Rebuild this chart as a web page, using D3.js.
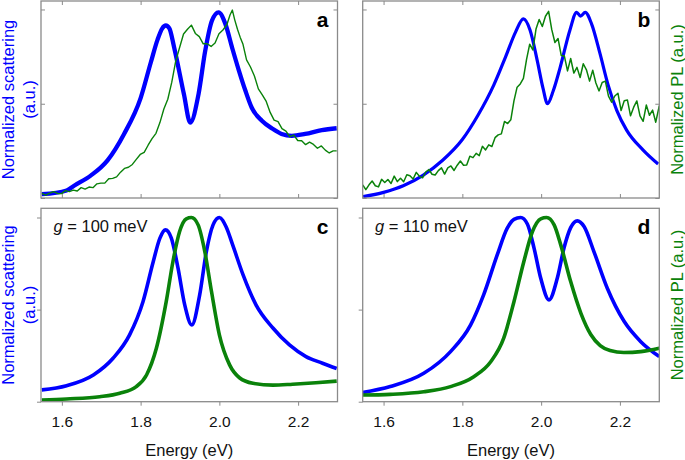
<!DOCTYPE html>
<meta charset='utf-8'>
<style>
  body { margin: 0; background: #fff; }
  svg { font-family: 'Liberation Sans', Arial, sans-serif; }
</style>
<div id='chart'></div>
<script src='https://d3js.org/d3.v7.min.js'></script>
<script>

// ---- data: [energy (eV), normalized value] ----
var scatA = [[1.549,0.02],[1.612,0.04],[1.631,0.065],[1.674,0.12],[1.716,0.2],[1.758,0.34],
  [1.80,0.53],[1.826,0.72],[1.843,0.84],[1.855,0.9],[1.864,0.915],[1.873,0.9],[1.885,0.8],
  [1.91,0.55],[1.926,0.40],[1.947,0.55],[1.964,0.78],[1.981,0.94],[1.998,0.985],[2.015,0.925],
  [2.032,0.80],[2.049,0.68],[2.066,0.57],[2.082,0.48],[2.108,0.41],[2.133,0.37],[2.158,0.34],
  [2.184,0.33],[2.218,0.34],[2.26,0.36],[2.298,0.37]];

var plA = [[1.549,0.025],[1.559,0.015],[1.569,0.026],[1.579,0.034],[1.589,0.024],[1.599,0.023],
  [1.609,0.039],[1.619,0.034],[1.629,0.042],[1.639,0.037],[1.649,0.055],[1.659,0.047],[1.669,0.058],
  [1.679,0.055],[1.689,0.075],[1.699,0.079],[1.709,0.079],[1.719,0.102],[1.729,0.104],[1.739,0.112],
  [1.749,0.137],[1.759,0.157],[1.769,0.163],[1.779,0.178],[1.789,0.205],[1.799,0.231],[1.809,0.242],
  [1.819,0.28],[1.829,0.315],[1.839,0.343],[1.849,0.40],[1.859,0.472],[1.869,0.524],[1.879,0.613],
  [1.889,0.725],[1.899,0.798],[1.909,0.87],[1.919,0.895],[1.929,0.917],[1.939,0.873],[1.949,0.856],
  [1.959,0.818],[1.969,0.818],[1.979,0.804],[1.989,0.822],[1.999,0.871],[2.009,0.891],[2.019,0.919],
  [2.027,0.971],[2.033,0.997],[2.039,0.945],[2.046,0.895],[2.053,0.852],[2.06,0.815],[2.069,0.733],
  [2.079,0.695],[2.089,0.647],[2.099,0.579],[2.109,0.547],[2.119,0.512],[2.129,0.454],[2.139,0.413],
  [2.149,0.405],[2.159,0.368],[2.169,0.355],[2.179,0.325],[2.189,0.334],[2.199,0.305],[2.209,0.304],
  [2.219,0.283],[2.229,0.296],[2.239,0.284],[2.249,0.264],[2.259,0.276],[2.269,0.254],[2.279,0.239],
  [2.289,0.25],[2.298,0.25]];

var scatB = [[1.548,0.007],[1.60,0.03],[1.65,0.065],[1.70,0.12],[1.75,0.2],[1.80,0.31],[1.84,0.44],
  [1.88,0.6],[1.91,0.75],[1.935,0.88],[1.955,0.95],[1.972,0.89],[1.99,0.73],[2.005,0.58],[2.016,0.50],
  [2.031,0.57],[2.048,0.69],[2.073,0.89],[2.09,0.985],[2.10,0.965],[2.112,0.985],[2.128,0.924],
  [2.149,0.77],[2.17,0.6],[2.192,0.465],[2.217,0.36],[2.259,0.254],[2.297,0.18]];

var plB = [[1.547,0.070],[1.555,0.044],[1.563,0.070],[1.571,0.090],[1.579,0.065],[1.587,0.059],
  [1.595,0.099],[1.603,0.082],[1.611,0.098],[1.619,0.077],[1.627,0.116],[1.635,0.087],[1.643,0.105],
  [1.651,0.086],[1.659,0.123],[1.667,0.118],[1.675,0.101],[1.683,0.136],[1.691,0.115],[1.699,0.107],
  [1.707,0.138],[1.715,0.151],[1.723,0.126],[1.731,0.122],[1.739,0.145],[1.747,0.160],[1.755,0.127],
  [1.763,0.160],[1.771,0.170],[1.779,0.146],[1.787,0.174],[1.795,0.196],[1.803,0.174],[1.811,0.175],
  [1.819,0.222],[1.827,0.214],[1.835,0.237],[1.843,0.225],[1.851,0.274],[1.859,0.255],[1.867,0.282],
  [1.875,0.273],[1.883,0.320],[1.891,0.335],[1.899,0.340],[1.907,0.406],[1.915,0.395],[1.923,0.415],
  [1.931,0.515],[1.939,0.588],[1.947,0.605],[1.955,0.635],[1.963,0.735],[1.971,0.816],[1.979,0.785],
  [1.987,0.896],[1.995,0.947],[2.003,0.91],[2.011,0.964],[2.019,0.99],[2.027,0.893],[2.035,0.825],
  [2.043,0.846],[2.051,0.756],[2.059,0.753],[2.067,0.674],[2.075,0.74],[2.083,0.663],[2.091,0.693],
  [2.099,0.639],[2.107,0.712],[2.115,0.68],[2.123,0.62],[2.131,0.678],[2.139,0.61],[2.147,0.568],
  [2.155,0.613],[2.163,0.62],[2.171,0.54],[2.179,0.508],[2.187,0.541],[2.195,0.556],[2.203,0.464],
  [2.211,0.516],[2.219,0.52],[2.227,0.436],[2.235,0.482],[2.243,0.515],[2.251,0.436],[2.259,0.407],
  [2.267,0.493],[2.275,0.439],[2.283,0.466],[2.291,0.402],[2.30,0.49]];

var scatC = [[1.549,0.064],[1.612,0.087],[1.68,0.145],[1.73,0.236],[1.772,0.363],[1.806,0.543],
  [1.832,0.76],[1.849,0.888],[1.863,0.933],[1.878,0.888],[1.895,0.725],[1.912,0.526],[1.93,0.417],
  [1.95,0.58],[1.967,0.815],[1.984,0.96],[2.0,1.0],[2.017,0.95],[2.034,0.85],[2.06,0.69],
  [2.093,0.526],[2.136,0.40],[2.178,0.308],[2.22,0.245],[2.262,0.209],[2.298,0.18]];

var plC = [[1.549,0.009],[1.612,0.015],[1.696,0.027],[1.747,0.046],[1.789,0.082],[1.815,0.145],
  [1.84,0.29],[1.865,0.543],[1.882,0.76],[1.899,0.924],[1.916,0.993],[1.929,1.0],[1.946,0.96],
  [1.963,0.815],[1.98,0.598],[2.0,0.363],[2.026,0.20],[2.051,0.13],[2.085,0.10],[2.136,0.09],
  [2.186,0.095],[2.245,0.103],[2.298,0.112]];

var scatD = [[1.545,0.049],[1.617,0.082],[1.702,0.154],[1.77,0.272],[1.821,0.417],[1.854,0.58],
  [1.889,0.80],[1.914,0.942],[1.931,0.99],[1.948,1.0],[1.965,0.965],[1.982,0.834],[1.999,0.67],
  [2.02,0.553],[2.041,0.67],[2.058,0.834],[2.075,0.945],[2.092,0.982],[2.109,0.951],[2.134,0.815],
  [2.168,0.616],[2.211,0.435],[2.253,0.326],[2.30,0.245]];

var plD = [[1.545,0.036],[1.617,0.04],[1.702,0.054],[1.77,0.082],[1.829,0.136],[1.872,0.217],
  [1.905,0.345],[1.931,0.543],[1.956,0.76],[1.978,0.924],[1.999,0.993],[2.014,1.0],[2.033,0.96],
  [2.05,0.85],[2.075,0.652],[2.101,0.48],[2.126,0.365],[2.15,0.305],[2.175,0.278],[2.21,0.267],
  [2.253,0.272],[2.30,0.29]];

var xTicks = [1.6, 1.8, 2.0, 2.2];
var yTicks = [0, 0.5, 1];
var panelLetters = ['a', 'b', 'c', 'd'];
var couplingLabels = ['100 meV', '110 meV'];

// ---- layout ----
var W = 685, H = 460;
var blue = '#0000ff', green = '#0a820a', frameColor = '#8a8a8a';

var svg = d3.select('#chart').append('svg')
  .attr('width', W).attr('height', H);

var cols = [[41, 337.5], [362.7, 659.3]];
var rows = [[1, 198, 1.045], [208.3, 401.7, 1.05]];

var panels = [
  {col: 0, row: 0, scat: scatA, pl: plA, sw: 4.3, pw: 1.4, smoothPl: false},
  {col: 1, row: 0, scat: scatB, pl: plB, sw: 3.2, pw: 1.5, smoothPl: false},
  {col: 0, row: 1, scat: scatC, pl: plC, sw: 3.6, pw: 3.6, smoothPl: true},
  {col: 1, row: 1, scat: scatD, pl: plD, sw: 3.6, pw: 3.6, smoothPl: true}
];

panels.forEach(function(p, i) {
  var x = d3.scaleLinear().domain([1.547, 2.3]).range(cols[p.col]);
  var y = d3.scaleLinear().domain([0, rows[p.row][2]]).range([rows[p.row][1], rows[p.row][0]]);
  var x0 = cols[p.col][0], x1 = cols[p.col][1];
  var y0 = rows[p.row][0], y1 = rows[p.row][1];
  var g = svg.append('g');

  g.append('clipPath').attr('id', 'clip' + i)
    .append('rect').attr('x', x0).attr('y', y0).attr('width', x1 - x0).attr('height', y1 - y0);

  var smooth = d3.line().x(function(d) { return x(d[0]); }).y(function(d) { return y(d[1]); })
    .curve(d3.curveMonotoneX);
  var jagged = d3.line().x(function(d) { return x(d[0]); }).y(function(d) { return y(d[1]); });

  var curves = g.append('g').attr('clip-path', 'url(#clip' + i + ')');
  curves.append('path').datum(p.scat)
    .attr('d', smooth).attr('fill', 'none').attr('stroke', blue)
    .attr('stroke-width', p.sw).attr('stroke-linejoin', 'round');
  curves.append('path').datum(p.pl)
    .attr('d', p.smoothPl ? smooth : jagged).attr('fill', 'none').attr('stroke', green)
    .attr('stroke-width', p.pw).attr('stroke-linejoin', 'round');

  // axes
  if (p.row === 0) {
    // ticks inside on all four sides
    var axes = [
      d3.axisBottom(x).tickValues(xTicks).tickSizeInner(-4).tickSizeOuter(0).tickFormat(''),
      d3.axisTop(x).tickValues(xTicks).tickSizeInner(-4).tickSizeOuter(0).tickFormat(''),
      d3.axisLeft(y).tickValues(yTicks).tickSizeInner(-4).tickSizeOuter(0).tickFormat(''),
      d3.axisRight(y).tickValues(yTicks).tickSizeInner(-4).tickSizeOuter(0).tickFormat('')
    ];
    var tr = ['translate(0,' + y1 + ')', 'translate(0,' + y0 + ')',
              'translate(' + x0 + ',0)', 'translate(' + x1 + ',0)'];
    axes.forEach(function(a, k) {
      var ag = g.append('g').attr('transform', tr[k]).call(a);
      ag.select('.domain').remove();
      ag.selectAll('line').attr('stroke', frameColor);
    });
  } else {
    var xa = g.append('g').attr('transform', 'translate(0,' + y1 + ')')
      .call(d3.axisBottom(x).tickValues(xTicks).tickSize(4).tickSizeOuter(0).tickPadding(10)
        .tickFormat(d3.format('.1f')));
    xa.select('.domain').remove();
    xa.selectAll('line').attr('stroke', frameColor);
    xa.selectAll('text').attr('font-size', '15.5px').attr('fill', '#111')
      .attr('font-family', "'Liberation Sans', Arial, sans-serif");
    var ya = g.append('g').attr('transform', 'translate(' + x0 + ',0)')
      .call(d3.axisLeft(y).tickValues(yTicks).tickSize(4).tickSizeOuter(0).tickFormat(''));
    ya.select('.domain').remove();
    ya.selectAll('line').attr('stroke', frameColor);

    g.append('text')
      .attr('x', (x0 + x1) / 2).attr('y', 455.5)
      .attr('text-anchor', 'middle').attr('font-size', '16.5px').attr('fill', '#111')
      .text('Energy (eV)');

    var gl = g.append('text')
      .attr('x', p.col === 0 ? 53.5 : 375).attr('y', 231.5)
      .attr('font-size', '16.5px').attr('fill', '#111');
    gl.append('tspan').attr('font-style', 'italic').text('g');
    gl.append('tspan').text(' = ' + couplingLabels[p.col]);
  }

  // frame
  g.append('rect')
    .attr('x', x0).attr('y', y0).attr('width', x1 - x0).attr('height', y1 - y0)
    .attr('fill', 'none').attr('stroke', frameColor).attr('stroke-width', 1.3);

  // panel letter
  g.append('text')
    .attr('x', x1 - 9).attr('y', p.row === 0 ? 27 : 233.5)
    .attr('text-anchor', 'end').attr('font-size', '21px').attr('font-weight', 'bold')
    .attr('fill', '#000').text(panelLetters[i]);

  // side labels
  var cy = (y0 + y1) / 2;
  if (p.col === 0) {
    svg.append('text')
      .attr('transform', 'translate(14,' + cy + ') rotate(-90)')
      .attr('text-anchor', 'middle').attr('font-size', '16.5px').attr('fill', blue)
      .text('Normalized scattering');
    svg.append('text')
      .attr('transform', 'translate(34.5,' + cy + ') rotate(-90)')
      .attr('text-anchor', 'middle').attr('font-size', '16.5px').attr('fill', blue)
      .text('(a.u.)');
  } else {
    svg.append('text')
      .attr('transform', 'translate(682.5,' + cy + ') rotate(-90)')
      .attr('text-anchor', 'middle').attr('font-size', '16.5px').attr('fill', green)
      .text('Normalized PL (a.u.)');
  }
});

</script>
